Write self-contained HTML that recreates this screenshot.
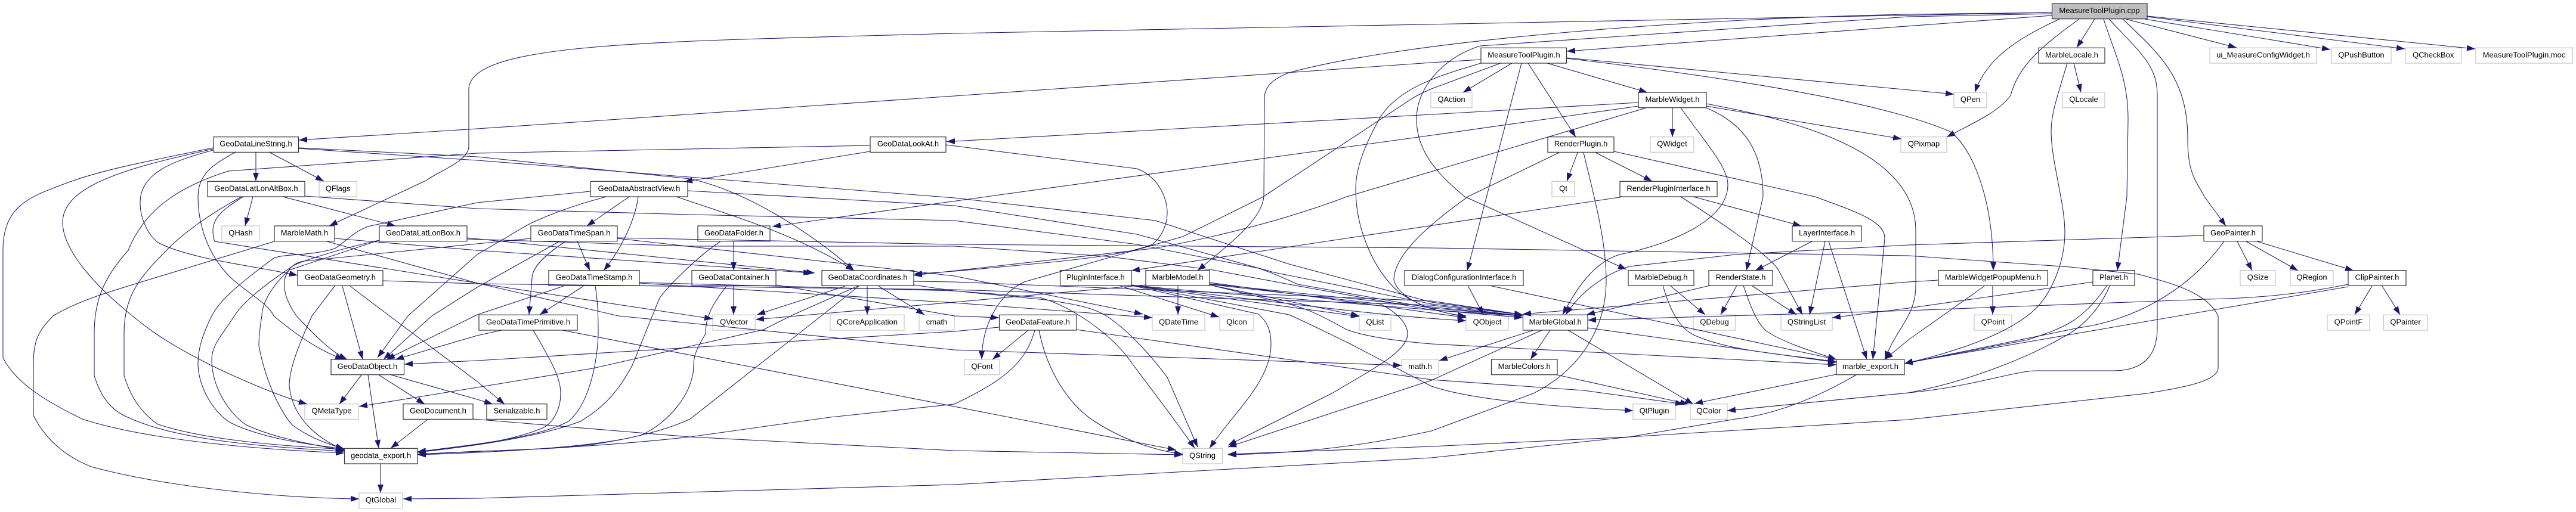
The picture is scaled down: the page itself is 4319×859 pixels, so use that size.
<!DOCTYPE html>
<html><head><meta charset="utf-8"><title>MeasureToolPlugin.cpp include graph</title>
<style>
html,body{margin:0;padding:0;background:#fff}
svg{display:block}
text{font-family:"Liberation Sans",sans-serif;font-size:13px;text-anchor:middle;fill:#000}
.b{fill:#fff;stroke:#333;stroke-width:1.2}
.g{fill:#fff;stroke:#c4c4c4;stroke-width:1.2}
.r{fill:#bfbfbf;stroke:#333;stroke-width:1.2}
</style></head><body>
<svg xmlns="http://www.w3.org/2000/svg" width="4319" height="859" viewBox="0 0 4319 859">
<defs><marker id="a" markerUnits="userSpaceOnUse" markerWidth="14" markerHeight="10" refX="14" refY="5" orient="auto"><path d="M0 0L14 5L0 10Z" fill="#191970"/></marker></defs>
<rect width="4319" height="859" fill="#fff"/>
<g>
<rect class="r" x="3440.5" y="6" width="159.5" height="25.7"/><text x="3520" y="22">MeasureToolPlugin.cpp</text>
<rect class="b" x="2483" y="80.3" width="143.5" height="25.7"/><text x="2555" y="96.3">MeasureToolPlugin.h</text>
<rect class="b" x="3418" y="80.3" width="111" height="25.7"/><text x="3473.5" y="96.3">MarbleLocale.h</text>
<rect class="g" x="3705" y="80.3" width="179" height="25.7"/><text x="3794.5" y="96.3">ui_MeasureConfigWidget.h</text>
<rect class="g" x="3909" y="80.3" width="100" height="25.7"/><text x="3959" y="96.3">QPushButton</text>
<rect class="g" x="4033" y="80.3" width="93.5" height="25.7"/><text x="4079.7" y="96.3">QCheckBox</text>
<rect class="g" x="4151" y="80.3" width="162.5" height="25.7"/><text x="4232" y="96.3">MeasureToolPlugin.moc</text>
<rect class="g" x="2399" y="155" width="69" height="25.7"/><text x="2433.5" y="171">QAction</text>
<rect class="b" x="2747" y="155" width="114" height="25.7"/><text x="2804" y="171">MarbleWidget.h</text>
<rect class="g" x="3276" y="155" width="55" height="25.7"/><text x="3303.5" y="171">QPen</text>
<rect class="g" x="3458" y="155" width="71" height="25.7"/><text x="3493.5" y="171">QLocale</text>
<rect class="b" x="358" y="229.7" width="142.5" height="25.7"/><text x="429" y="245.7">GeoDataLineString.h</text>
<rect class="b" x="1459" y="229.7" width="127" height="25.7"/><text x="1522.5" y="245.7">GeoDataLookAt.h</text>
<rect class="b" x="2595" y="229.7" width="111" height="25.7"/><text x="2650.5" y="245.7">RenderPlugin.h</text>
<rect class="g" x="2767" y="229.7" width="73" height="25.7"/><text x="2803.5" y="245.7">QWidget</text>
<rect class="g" x="3187" y="229.7" width="77" height="25.7"/><text x="3225.5" y="245.7">QPixmap</text>
<rect class="b" x="348" y="304.3" width="163" height="25.7"/><text x="429.5" y="320.3">GeoDataLatLonAltBox.h</text>
<rect class="g" x="535" y="304.3" width="63.5" height="25.7"/><text x="566.7" y="320.3">QFlags</text>
<rect class="b" x="990" y="304.3" width="163" height="25.7"/><text x="1071.5" y="320.3">GeoDataAbstractView.h</text>
<rect class="g" x="2602" y="304.3" width="38" height="25.7"/><text x="2621" y="320.3">Qt</text>
<rect class="b" x="2716" y="304.3" width="163" height="25.7"/><text x="2797.5" y="320.3">RenderPluginInterface.h</text>
<rect class="g" x="372" y="379" width="63" height="25.7"/><text x="403.5" y="395">QHash</text>
<rect class="b" x="460" y="379" width="101" height="25.7"/><text x="510.5" y="395">MarbleMath.h</text>
<rect class="b" x="636" y="379" width="147" height="25.7"/><text x="709.5" y="395">GeoDataLatLonBox.h</text>
<rect class="b" x="890" y="379" width="145" height="25.7"/><text x="962.5" y="395">GeoDataTimeSpan.h</text>
<rect class="b" x="1170" y="379" width="121" height="25.7"/><text x="1230.5" y="395">GeoDataFolder.h</text>
<rect class="b" x="3005" y="379" width="116" height="25.7"/><text x="3063" y="395">LayerInterface.h</text>
<rect class="b" x="3695" y="379" width="98" height="25.7"/><text x="3744" y="395">GeoPainter.h</text>
<rect class="b" x="499" y="453.7" width="143" height="25.7"/><text x="570.5" y="469.7">GeoDataGeometry.h</text>
<rect class="b" x="920" y="453.7" width="152" height="25.7"/><text x="996" y="469.7">GeoDataTimeStamp.h</text>
<rect class="b" x="1160" y="453.7" width="141" height="25.7"/><text x="1230.5" y="469.7">GeoDataContainer.h</text>
<rect class="b" x="1378" y="453.7" width="154" height="25.7"/><text x="1455" y="469.7">GeoDataCoordinates.h</text>
<rect class="b" x="1777.5" y="453.7" width="119.5" height="25.7"/><text x="1837" y="469.7">PluginInterface.h</text>
<rect class="b" x="1921" y="453.7" width="107" height="25.7"/><text x="1974.5" y="469.7">MarbleModel.h</text>
<rect class="b" x="2355" y="453.7" width="199" height="25.7"/><text x="2454.5" y="469.7">DialogConfigurationInterface.h</text>
<rect class="b" x="2730" y="453.7" width="110" height="25.7"/><text x="2785" y="469.7">MarbleDebug.h</text>
<rect class="b" x="2865" y="453.7" width="107" height="25.7"/><text x="2918.5" y="469.7">RenderState.h</text>
<rect class="b" x="3250" y="453.7" width="183" height="25.7"/><text x="3341.5" y="469.7">MarbleWidgetPopupMenu.h</text>
<rect class="b" x="3509" y="453.7" width="70" height="25.7"/><text x="3544" y="469.7">Planet.h</text>
<rect class="g" x="3756" y="453.7" width="59" height="25.7"/><text x="3785.5" y="469.7">QSize</text>
<rect class="g" x="3840" y="453.7" width="72" height="25.7"/><text x="3876" y="469.7">QRegion</text>
<rect class="b" x="3937" y="453.7" width="97" height="25.7"/><text x="3985.5" y="469.7">ClipPainter.h</text>
<rect class="b" x="803" y="528.3" width="165" height="25.7"/><text x="885.5" y="544.3">GeoDataTimePrimitive.h</text>
<rect class="g" x="1195" y="528.3" width="71" height="25.7"/><text x="1230.5" y="544.3">QVector</text>
<rect class="g" x="1392" y="528.3" width="124" height="25.7"/><text x="1454" y="544.3">QCoreApplication</text>
<rect class="g" x="1541" y="528.3" width="59" height="25.7"/><text x="1570.5" y="544.3">cmath</text>
<rect class="b" x="1675.5" y="528.3" width="129.5" height="25.7"/><text x="1740" y="544.3">GeoDataFeature.h</text>
<rect class="g" x="1932" y="528.3" width="88" height="25.7"/><text x="1976" y="544.3">QDateTime</text>
<rect class="g" x="2045" y="528.3" width="57" height="25.7"/><text x="2073.5" y="544.3">QIcon</text>
<rect class="g" x="2279" y="528.3" width="53" height="25.7"/><text x="2305.5" y="544.3">QList</text>
<rect class="g" x="2458" y="528.3" width="71" height="25.7"/><text x="2493.5" y="544.3">QObject</text>
<rect class="b" x="2553.5" y="528.3" width="108.5" height="25.7"/><text x="2607.7" y="544.3">MarbleGlobal.h</text>
<rect class="g" x="2839" y="528.3" width="71" height="25.7"/><text x="2874.5" y="544.3">QDebug</text>
<rect class="g" x="2986" y="528.3" width="86" height="25.7"/><text x="3029" y="544.3">QStringList</text>
<rect class="g" x="3310" y="528.3" width="63" height="25.7"/><text x="3341.5" y="544.3">QPoint</text>
<rect class="g" x="3902" y="528.3" width="71" height="25.7"/><text x="3937.5" y="544.3">QPointF</text>
<rect class="g" x="3996.5" y="528.3" width="73.5" height="25.7"/><text x="4033" y="544.3">QPainter</text>
<rect class="b" x="555" y="603" width="122.5" height="25.7"/><text x="616" y="619">GeoDataObject.h</text>
<rect class="g" x="1617" y="603" width="59" height="25.7"/><text x="1646.5" y="619">QFont</text>
<rect class="g" x="2350" y="603" width="62" height="25.7"/><text x="2381" y="619">math.h</text>
<rect class="b" x="2500.5" y="603" width="110.5" height="25.7"/><text x="2555.7" y="619">MarbleColors.h</text>
<rect class="b" x="3079" y="603" width="114" height="25.7"/><text x="3136" y="619">marble_export.h</text>
<rect class="g" x="511" y="677.7" width="90" height="25.7"/><text x="556" y="693.7">QMetaType</text>
<rect class="b" x="676" y="677.7" width="117" height="25.7"/><text x="734.5" y="693.7">GeoDocument.h</text>
<rect class="b" x="816" y="677.7" width="101" height="25.7"/><text x="866.5" y="693.7">Serializable.h</text>
<rect class="g" x="2738" y="677.7" width="71" height="25.7"/><text x="2773.5" y="693.7">QtPlugin</text>
<rect class="g" x="2834" y="677.7" width="62" height="25.7"/><text x="2865" y="693.7">QColor</text>
<rect class="b" x="577.5" y="752.3" width="122.5" height="25.7"/><text x="638.7" y="768.3">geodata_export.h</text>
<rect class="g" x="1983" y="752.3" width="66.5" height="25.7"/><text x="2016" y="768.3">QString</text>
<rect class="g" x="602" y="827" width="73" height="25.7"/><text x="638.5" y="843">QtGlobal</text>
</g>
<g fill="none" stroke="#191970" stroke-width="1.05" marker-end="url(#a)">
<!-- root -->
<path d="M3440 26L2627 86"/>
<path d="M3440 21L1600 56C1100 70 786 70 786 150L786 245C786 270 740 285 714 303L552 379"/>
<path d="M3440 21L3200 24C2800 32 2350 70 2161 122C2135 132 2120 145 2120 165L2119 330C2115 370 2060 410 2008 454"/>
<path d="M3440 23L3200 28L2482 77C2430 92 2375 140 2375 200C2375 260 2420 300 2456 330L2727 452"/>
<path d="M3453 32C3380 65 3330 100 3311 155"/>
<path d="M3486 32C3420 80 3385 110 3371 160C3350 190 3300 210 3264 230"/>
<path d="M3512 32L3482 80"/>
<path d="M3527 32C3545 90 3568 130 3568 200L3566 330L3550 454"/>
<path d="M3536 32C3590 90 3617 110 3617 160L3617 550C3617 600 3590 622 3543 622L3414 622C3380 622 3300 650 3200 659L2896 689"/>
<path d="M3559 32C3620 90 3668 130 3668 233C3668 290 3680 300 3696 330L3732 379"/>
<path d="M3564 32L3750 80"/>
<path d="M3596 32L3907 83"/>
<path d="M3600 28L4032 82"/>
<path d="M3600 27L4150 82"/>
<!-- MarbleLocale -->
<path d="M3477 106L3489 155"/>
<path d="M3466 106C3450 160 3439 190 3439 220C3439 270 3462 340 3462 390C3462 440 3440 490 3414 517C3370 560 3280 590 3193 610"/>
<!-- MeasureToolPlugin.h -->
<path d="M2483 100L2400 105L1600 161L1037 200L800 216L501 235"/>
<path d="M2483 106C2420 125 2347 145 2314 197C2290 240 2273 280 2273 317C2273 380 2300 450 2345 490C2380 515 2420 525 2458 532"/>
<path d="M2516 106L2400 149C2380 158 2372 162 2365 167L2118 330L1983 397L1717 473C1680 490 1646 540 1646 603"/>
<path d="M2535 106L2453 155"/>
<path d="M2551 106L2460 454"/>
<path d="M2562 106L2642 230"/>
<path d="M2594 106L2762 155"/>
<path d="M2627 97L3276 158"/>
<path d="M2627 98C2900 130 3150 170 3268 220C3300 240 3342 320 3342 454"/>
<!-- MarbleWidget -->
<path d="M2747 172L2400 192L1600 237L1587 237.500"/>
<path d="M2747 178L2400 227L1661 329L1295 380"/>
<path d="M2760 181L2258 330C2100 390 1932 417 1932 417L1532 462"/>
<path d="M2861 174C3000 200 3212 250 3212 387L3212 480C3212 530 3180 550 3160 603"/>
<path d="M2861 178L3188 233"/>
<path d="M2861 181C2930 210 2956 260 2956 330L2928 454"/>
<path d="M2804 181L2804 230"/>
<path d="M2818 181C2860 240 2897 280 2897 310C2897 370 2800 410 2716 427C2670 440 2640 490 2620 528"/>
<!-- RenderPlugin -->
<path d="M2614 256L2461 330C2420 360 2337 420 2337 470C2345 500 2400 525 2458 530"/>
<path d="M2645 256L2627 304"/>
<path d="M2655 256C2670 320 2693 400 2693 470C2693 550 2650 620 2571 660L2400 723C2300 745 2200 760 2059 763"/>
<path d="M2675 256L2770 304"/>
<path d="M2706 254L3043 330C3110 355 3160 370 3160 400L3140 603"/>
<!-- RenderPluginInterface / Layer -->
<path d="M2722 330L1897 454"/>
<path d="M2818 330C2880 370 2956 420 2980 450L3022 528"/>
<path d="M2839 330L3020 379"/>
<path d="M3038 405L2943 454"/>
<path d="M3060 405L3034 528"/>
<path d="M3066 405L3130 603"/>
<!-- RenderState / Debug / Dialog -->
<path d="M2867 479L2660 528"/>
<path d="M2912 479L2885 528"/>
<path d="M2937 479L3012 528"/>
<path d="M2923 479C2940 530 2950 545 2961 555C2990 575 3040 590 3079 603"/>
<path d="M2800 479L2859 528"/>
<path d="M2788 479C2800 520 2815 550 2840 562C2900 590 3000 595 3079 607"/>
<path d="M2461 479L2487 528"/>
<path d="M2497 479L3079 603"/>
<!-- MarbleGlobal / Colors / export -->
<path d="M2571 554L2413 605"/>
<path d="M2585 554L2400 638L2059 750"/>
<path d="M2599 554L2566 603"/>
<path d="M2629 554L2839 678"/>
<path d="M2662 550L3079 608"/>
<path d="M2611 629L2831 678"/>
<path d="M3079 628L2841 677"/>
<path d="M3112 629C3050 665 2980 695 2910 703L2732 733L2400 768L1600 813L800 836L676 837"/>
<!-- Feature -->
<path d="M1805 553L2400 637L2655 655L2823 678"/>
<path d="M1301 478L1600 530L1675 533"/>
<path d="M1675 549L1600 556L800 605L678 611"/>
<path d="M1724 554L1664 603"/>
<path d="M1735 554C1720 610 1680 640 1600 678L1392 700L1157 733C1050 745 900 755 800 757L700 762"/>
<path d="M1742 554C1755 620 1790 680 1840 710C1880 735 1930 755 1983 762"/>
<!-- PluginInterface / MarbleModel -->
<path d="M1897 478L2161 528C2200 545 2228 560 2260 575L2400 648C2450 665 2553 680 2738 689"/>
<path d="M1898 479L2110 527C2125 540 2131 555 2131 577C2131 640 2070 690 2028 752"/>
<path d="M1897 479L2279 531"/>
<path d="M2028 478L2279 530"/>
<path d="M1876 479L2044 532"/>
<path d="M1975 479L1975 528"/>
<path d="M1897 478C2000 490 2300 510 2553 533"/>
<path d="M1897 479C2100 500 2300 530 2458 538"/>
<path d="M2028 476L2400 515L2553 530"/>
<path d="M2028 474L2458 533"/>
<path d="M2028 478L2161 510C2200 520 2228 537 2258 553C2290 565 2340 572 2400 577L3079 612"/>
<path d="M2028 477L2314 510C2345 525 2360 545 2360 560C2360 590 2300 620 2233 660L2059 747"/>
<path d="M1921 478L1600 507L1267 536"/>
<!-- Popup, Planet, Painter, Clip -->
<path d="M3250 470L3200 473L2553 527"/>
<path d="M3327 480L3200 570L3160 603"/>
<path d="M3341 480L3341 528"/>
<path d="M3509 473L3200 517L3072 533"/>
<path d="M3532 480C3490 540 3460 550 3400 570L3193 610"/>
<path d="M3537 480C3520 520 3490 550 3460 565C3400 600 3300 640 3200 659L2896 689"/>
<path d="M3695 395L3200 411L2910 427L2732 447C2690 460 2650 490 2625 528"/>
<path d="M3729 405C3660 500 3560 540 3485 550L3193 610"/>
<path d="M3751 405L3776 454"/>
<path d="M3766 405L3853 454"/>
<path d="M3784 405L3946 454"/>
<path d="M3977 480L3948 528"/>
<path d="M3994 480L4024 528"/>
<path d="M3937 477C3850 495 3780 500 3700 502L3200 521L2662 537"/>
<path d="M3937 481L3200 608L3193 610"/>
<!-- LineString -->
<path d="M429 255L429 304"/>
<path d="M451 255L543 304"/>
<path d="M357 248C250 270 170 285 112 307C50 330 5 345 5 420L5 600C25 640 70 670 138 703C250 740 450 755 577 760"/>
<path d="M357 250C220 280 105 310 105 373C105 420 160 480 222 530C270 570 310 590 352 612C410 640 470 665 515 678"/>
<path d="M357 252C290 270 235 290 235 340C235 370 250 395 265 407C320 435 420 445 499 462"/>
<path d="M395 255C360 275 332 290 332 330C332 380 350 430 388 467C420 495 450 510 459 530C500 565 540 590 576 603"/>
<path d="M500 248L800 263L1157 300C1250 320 1360 390 1432 454"/>
<path d="M500 249L800 269L1600 332L1937 370L2161 443L2400 507L2553 528"/>
<!-- LookAt -->
<path d="M1459 244L800 257L383 287C310 310 245 345 215 420C170 470 158 510 158 560L158 630C170 670 190 690 214 700C300 740 450 750 577 757"/>
<path d="M1459 254L1147 305"/>
<path d="M1586 243L1906 283C1940 295 1957 330 1957 357C1957 380 1945 400 1932 410C1880 430 1800 437 1600 455L1532 460"/>
<!-- LatLonAltBox -->
<path d="M424 330L411 379"/>
<path d="M474 330L663 379"/>
<path d="M511 329L800 350L1157 360L1600 370L1906 410L2110 450C2140 460 2160 470 2176 477L2400 517L2553 530"/>
<path d="M405 330C350 360 310 390 286 413C240 460 208 490 208 560L208 630C220 670 240 695 265 712C350 740 480 748 577 754"/>
<path d="M408 330C375 350 357 365 357 387C357 395 358 400 360 405L800 475L1195 535"/>
<!-- MarbleMath -->
<path d="M460 405L280 460C180 490 130 505 89 530C65 555 56 570 56 610L56 697C80 745 120 770 153 783C270 815 450 835 602 837"/>
<path d="M561 400L800 420L1361 458"/>
<path d="M548 405L800 475L1037 530L1600 587L2350 613"/>
<!-- LatLonBox -->
<path d="M783 399L1366 458"/>
<path d="M783 401L1157 413L1600 413L1855 430L2034 453L2161 477L2400 520L2553 530"/>
<path d="M636 403C560 420 500 440 490 447C440 480 405 510 393 530C370 565 355 580 355 603C355 650 385 695 413 713C460 735 520 745 577 756"/>
<path d="M636 403L485 453C475 465 477 475 477 483C478 500 490 520 497 530C530 565 555 590 582 603"/>
<!-- TimeSpan -->
<path d="M890 400L800 409L510 438C495 440 485 450 485 453C455 480 439 510 439 530C434 560 434 575 434 580C445 640 470 690 490 713C520 735 550 745 577 753"/>
<path d="M938 405L800 482L724 530L643 603"/>
<path d="M968 405L989 454"/>
<path d="M948 405C910 430 892 450 892 467L887 528"/>
<path d="M1035 399L1600 410L2400 416L3200 429L3471 448L3585 460C3640 475 3700 490 3719 530L3719 617C3719 640 3660 650 3600 660L3200 704L2732 733L2400 749L2059 762"/>
<path d="M1035 400L1600 463L1916 527"/>
<!-- AbstractView -->
<path d="M1055 330L984 379"/>
<path d="M1070 330C1065 370 1040 420 1012 454"/>
<path d="M1134 330C1220 360 1330 390 1432 454"/>
<path d="M1153 320L1600 345L1906 393L2136 457L2400 510L2553 528"/>
<path d="M990 321L800 340L617 380C590 390 575 410 561 417C520 430 480 425 459 433C410 470 370 500 355 530C340 560 332 585 332 610C332 650 360 695 388 710C440 735 510 745 577 753"/>
<path d="M1017 330C940 350 892 373 880 380L800 427L684 530L633 600"/>
<!-- TimeStamp -->
<path d="M978 480L905 528"/>
<path d="M945 480L800 528L786 535L648 603"/>
<path d="M1072 475L1600 508L1932 533"/>
<path d="M998 480C1003 510 1003 540 1003 563C1000 620 985 680 953 707C900 735 800 745 700 758"/>
<!-- TimePrimitive -->
<path d="M894 554C920 600 940 630 940 660C940 690 925 710 912 717C860 740 780 750 700 758"/>
<path d="M841 554L800 563L663 603"/>
<path d="M943 554L1600 682L1972 755"/>
<!-- Folder / Container -->
<path d="M1208 405C1170 430 1120 480 1106 500C1085 550 1070 590 1060 613C1030 670 1000 690 973 707C900 735 780 750 700 759"/>
<path d="M1230 405L1230 454"/>
<path d="M1230 480L1230 528"/>
<path d="M1218 480C1195 510 1183 530 1183 560C1165 590 1163 600 1163 613C1163 660 1120 710 1075 730C1000 750 850 758 700 763"/>
<!-- Coordinates -->
<path d="M1417 480L1269 528"/>
<path d="M1438 480L1330 528L1280 553L994 618L800 650L602 682"/>
<path d="M1440 480L1377 530L1157 703C1100 730 1000 748 928 752L700 762"/>
<path d="M1454 480L1454 528"/>
<path d="M1473 480L1550 528"/>
<path d="M1532 472L1600 473L2400 505L2553 528"/>
<path d="M1532 478L1600 488L1743 499C1800 515 1860 560 1891 600C1920 640 1960 690 2003 752"/>
<path d="M1072 474L1600 488L1753 503C1800 510 1830 515 1855 530C1900 560 1940 610 1957 633L2008 750"/>
<!-- Geometry -->
<path d="M561 480L523 530C500 580 485 620 485 647C490 700 530 735 577 755"/>
<path d="M574 480L608 603"/>
<path d="M587 480L653 530L800 640L846 678"/>
<path d="M642 471L800 476L1600 486L2400 512L2553 530"/>
<!-- Object / Document / export -->
<path d="M606 629L569 678"/>
<path d="M617 629L635 752"/>
<path d="M635 629L712 678"/>
<path d="M656 629L800 670L826 678"/>
<path d="M718 703L655 752"/>
<path d="M793 703L1157 733L1600 756L1983 763"/>
<path d="M638 778L638 827"/>
</g>
</svg>
</body></html>
